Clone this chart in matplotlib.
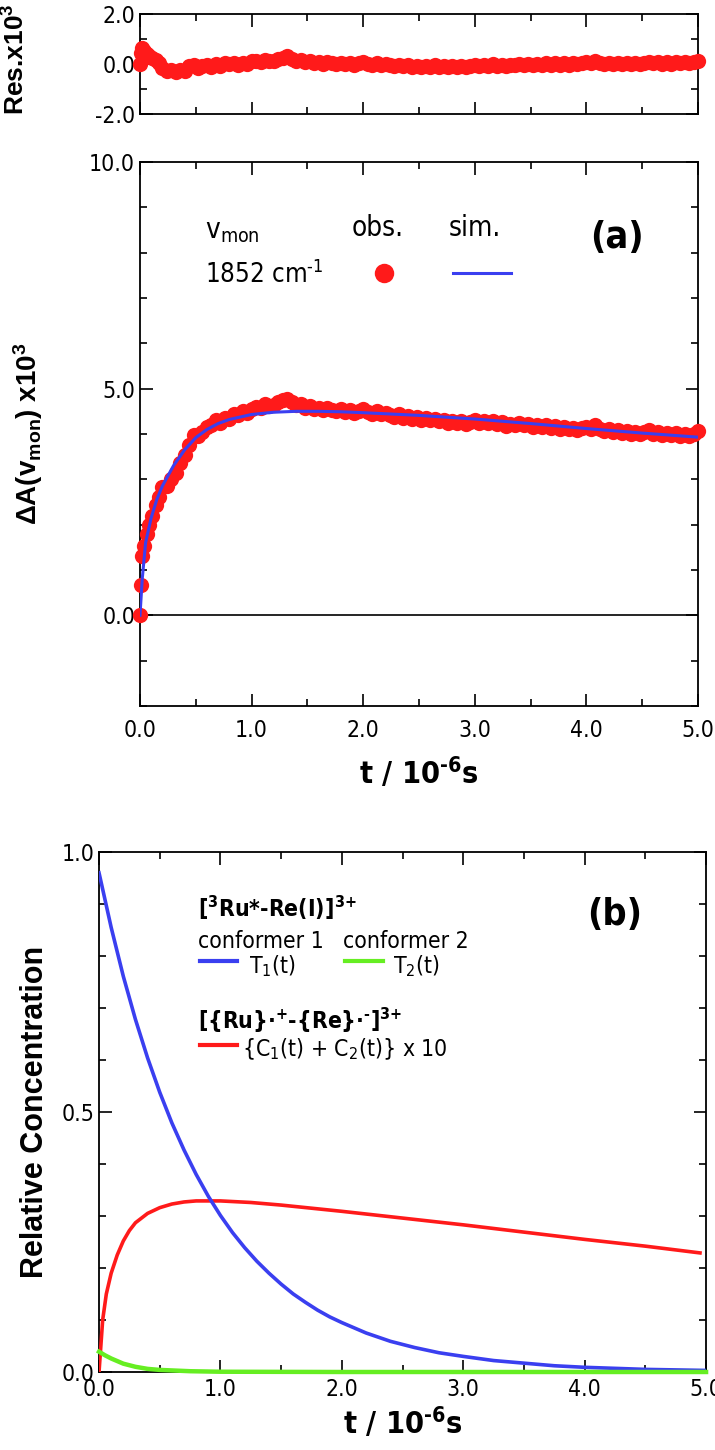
import numpy as np
import matplotlib
matplotlib.use("Agg")
import matplotlib.pyplot as plt
from matplotlib.ticker import MultipleLocator

plt.rcParams['font.family'] = ['Liberation Sans', 'DejaVu Sans']
plt.rcParams['mathtext.default'] = 'regular'

#------------------------- DATA: panel (a) -------------------------
# observed transient (early points read one by one, then 0.04 grid)
t_obs_early = [0.0, 0.012, 0.02, 0.04, 0.06, 0.08, 0.11, 0.14, 0.17, 0.2, 0.24, 0.28,
               0.32, 0.36, 0.4, 0.44, 0.48, 0.52, 0.56, 0.6, 0.64, 0.68, 0.72, 0.76, 0.8]
a_obs_early = [0.0, 0.67, 1.30, 1.54, 1.80, 2.0, 2.2, 2.43, 2.6, 2.83, 2.85, 3.0,
               3.15, 3.35, 3.53, 3.75, 3.98, 3.96, 4.05, 4.15, 4.2, 4.30, 4.25, 4.36, 4.33]
t_grid = np.round(np.arange(0.84, 5.001, 0.04), 2)
a_obs_late = [4.45, 4.42, 4.50, 4.47, 4.55, 4.60, 4.58, 4.66, 4.62, 4.64, 4.70, 4.74, 4.78,
              4.70, 4.64, 4.66, 4.58, 4.62, 4.55, 4.57, 4.52, 4.58, 4.54, 4.50, 4.55, 4.49,
              4.53, 4.47, 4.51, 4.55, 4.48, 4.45, 4.50, 4.44, 4.47, 4.42, 4.38, 4.43, 4.36,
              4.40, 4.33, 4.37, 4.31, 4.35, 4.30, 4.34, 4.28, 4.31, 4.25, 4.29, 4.24, 4.28,
              4.22, 4.27, 4.30, 4.25, 4.29, 4.24, 4.28, 4.22, 4.26, 4.18, 4.23, 4.20, 4.24,
              4.19, 4.22, 4.16, 4.20, 4.15, 4.19, 4.14, 4.18, 4.12, 4.16, 4.10, 4.14, 4.09,
              4.13, 4.16, 4.11, 4.20, 4.12, 4.06, 4.10, 4.04, 4.08, 4.02, 4.06, 4.01, 4.05,
              3.99, 4.04, 4.08, 4.01, 4.05, 3.98, 4.03, 3.97, 4.02, 3.96, 4.01, 3.95, 4.00, 4.06]

# residuals
res_early = [0.0, 0.45, 0.62, 0.5, 0.4, 0.3, 0.25, 0.15, 0.05, -0.15, -0.3, -0.25,
             -0.32, -0.25, -0.3, -0.1, -0.05, -0.15, -0.1, -0.05, -0.12, -0.02, -0.08, 0.05, 0.0]
res_late = [0.02, -0.05, 0.05, 0.0, 0.1, 0.12, 0.08, 0.15, 0.1, 0.12, 0.18, 0.25, 0.3,
            0.18, 0.12, 0.15, 0.06, 0.1, 0.03, 0.06, 0.0, 0.08, 0.03, -0.02, 0.05, -0.02,
            0.03, -0.03, 0.02, 0.06, 0.0, -0.04, 0.03, -0.04, 0.0, -0.05, -0.1, -0.03, -0.1,
            -0.05, -0.12, -0.07, -0.12, -0.07, -0.12, -0.06, -0.12, -0.08, -0.14, -0.1, -0.14,
            -0.08, -0.14, -0.08, -0.03, -0.08, -0.03, -0.07, -0.02, -0.08, -0.03, -0.1, -0.04,
            -0.06, 0.0, -0.04, 0.0, -0.05, 0.0, -0.04, 0.02, -0.03, 0.02, -0.03, 0.02, -0.03,
            0.02, -0.02, 0.03, 0.06, 0.02, 0.1, 0.03, -0.02, 0.03, -0.02, 0.03, -0.02, 0.03,
            0.0, 0.04, 0.0, 0.05, 0.08, 0.02, 0.06, 0.0, 0.06, 0.01, 0.06, 0.02, 0.07, 0.03,
            0.08, 0.12]

# simulated curve
t_sim = [0, 0.02, 0.05, 0.1, 0.15, 0.2, 0.3, 0.4, 0.5, 0.6, 0.7, 0.8, 1.0, 1.2, 1.4,
         1.6, 1.8, 2.0, 2.5, 3.0, 3.5, 4.0, 4.5, 5.0]
a_sim = [0, 0.8, 1.6, 2.15, 2.55, 2.85, 3.3, 3.65, 3.92, 4.1, 4.23, 4.32, 4.43, 4.48, 4.5,
         4.5, 4.49, 4.47, 4.41, 4.33, 4.23, 4.12, 4.02, 3.93]

#------------------------- DATA: panel (b) -------------------------
t_T1 = [0, 0.1, 0.2, 0.3, 0.4, 0.5, 0.6, 0.7, 0.8, 0.9, 1.0, 1.1, 1.2, 1.3, 1.4, 1.5,
        1.6, 1.7, 1.8, 1.9, 2.0, 2.1, 2.2, 2.3, 2.4, 2.5, 2.6, 2.8, 3.0, 3.25, 3.5, 3.75,
        4.0, 4.5, 5.0]
T1 = [0.960, 0.855, 0.761, 0.678, 0.604, 0.538, 0.479, 0.427, 0.380, 0.338, 0.301, 0.268,
      0.239, 0.213, 0.190, 0.169, 0.150, 0.134, 0.119, 0.106, 0.095, 0.085, 0.075, 0.067,
      0.059, 0.053, 0.047, 0.037, 0.030, 0.022, 0.017, 0.012, 0.009, 0.005, 0.003]
t_T2 = [0, 0.05, 0.1, 0.15, 0.2, 0.3, 0.4, 0.5, 0.75, 1.0, 2.0, 5.0]
T2 = [0.039, 0.032, 0.026, 0.021, 0.016, 0.010, 0.006, 0.004, 0.0015, 0.0005, 0.0, 0.0]
t_C = [0, 0.03, 0.06, 0.1, 0.15, 0.2, 0.25, 0.3, 0.4, 0.5, 0.6, 0.7, 0.8, 0.9, 1.0,
       1.25, 1.5, 2.0, 2.5, 3.0, 3.5, 4.0, 4.5, 4.95]
C10 = [0, 0.10, 0.15, 0.19, 0.225, 0.252, 0.272, 0.287, 0.305, 0.316, 0.323, 0.327, 0.329,
       0.329, 0.329, 0.326, 0.321, 0.309, 0.296, 0.283, 0.269, 0.255, 0.242, 0.229]

t_obs = np.concatenate([t_obs_early, t_grid])
a_obs = np.concatenate([a_obs_early, a_obs_late])
res = np.concatenate([res_early, res_late])

RED = '#ff1a1a'
BLUE = '#3a3ff0'
GREEN = '#66ee22'
NARROW = dict(family=['DejaVu Sans'], stretch='condensed')
LAB = dict(fontsize=20, fontweight='bold')
XLAB = dict(fontsize=22, fontweight='bold', **NARROW)


def style(ax, xmaj, xmin, ymaj, ymin):
    ax.xaxis.set_major_locator(MultipleLocator(xmaj))
    ax.xaxis.set_minor_locator(MultipleLocator(xmin))
    ax.yaxis.set_major_locator(MultipleLocator(ymaj))
    ax.yaxis.set_minor_locator(MultipleLocator(ymin))
    ax.tick_params(which='both', direction='in', top=True, right=True, labelsize=16.5, width=1.2)
    ax.tick_params(which='major', length=9)
    ax.tick_params(which='minor', length=5)
    for s in ax.spines.values():
        s.set_linewidth(1.3)


def narrow_ticks(ax):
    for lab in ax.get_xticklabels() + ax.get_yticklabels():
        lab.set_family('DejaVu Sans')
        lab.set_stretch('condensed')


fig = plt.figure(figsize=(7.15, 14.5), dpi=100)

# residual panel
axr = fig.add_axes([0.1958, 0.9214, 0.7804, 0.0690])
axr.plot(t_obs, res, 'o', color=RED, ms=11, mec='none', clip_on=False, zorder=3)
axr.set_xlim(0, 5)
axr.set_ylim(-2, 2)
style(axr, 1.0, 0.5, 2.0, 1.0)
axr.set_yticks([-2, 0, 2])
axr.set_yticklabels(['-2.0', '0.0', '2.0'])
axr.set_xticklabels([])
narrow_ticks(axr)
axr.set_ylabel('Res.x10$^{3}$', fontsize=19, fontweight='bold')
axr.yaxis.set_label_coords(-0.197, 0.55)

# panel (a)
axa = fig.add_axes([0.1958, 0.5131, 0.7804, 0.3752])
axa.axhline(0, color='k', lw=1.2)
axa.plot(t_obs, a_obs, 'o', color=RED, ms=11, mec='none', clip_on=False, zorder=3)
axa.plot(t_sim, a_sim, '-', color=BLUE, lw=2.2, zorder=4)
axa.set_xlim(0, 5)
axa.set_ylim(-2, 10)
style(axa, 1.0, 0.5, 5.0, 1.0)
axa.set_xticks([0, 1, 2, 3, 4, 5])
axa.set_xticklabels(['0.0', '1.0', '2.0', '3.0', '4.0', '5.0'])
axa.set_yticks([0, 5, 10])
axa.set_yticklabels(['0.0', '5.0', '10.0'])
axa.tick_params(axis='x', pad=9)
narrow_ticks(axa)
axa.set_ylabel('$\\Delta$A(v$_{mon}$) x10$^{3}$', **LAB)
axa.yaxis.set_label_coords(-0.17, 0.5)
axa.set_xlabel('t / 10$^{\u20106}$s', labelpad=10, **XLAB)

ta = axa.transAxes
axa.text(0.117, 0.86, 'v$_{mon}$', transform=ta, fontsize=20, va='baseline', **NARROW)
axa.text(0.426, 0.864, 'obs.', transform=ta, fontsize=20, va='baseline', ha='center', **NARROW)
axa.text(0.60, 0.864, 'sim.', transform=ta, fontsize=20, va='baseline', ha='center', **NARROW)
axa.text(0.855, 0.842, '(a)', transform=ta, fontsize=27, fontweight='bold', va='baseline',
         ha='center', **NARROW)
axa.text(0.117, 0.778, '1852 cm$^{\u20101}$', transform=ta, fontsize=18.5, va='baseline', **NARROW)
axa.plot([0.437], [0.796], 'o', color=RED, ms=14, mec='none', transform=ta)
axa.plot([0.561, 0.665], [0.796, 0.796], '-', color=BLUE, lw=2.2, transform=ta)

# panel (b)
axb = fig.add_axes([0.1385, 0.0538, 0.8490, 0.3586])
axb.plot(t_C, C10, '-', color=RED, lw=2.6, zorder=3)
axb.plot(t_T1, T1, '-', color=BLUE, lw=2.6, zorder=3)
axb.plot(t_T2, T2, '-', color=GREEN, lw=3.2, zorder=4, clip_on=False)
axb.set_xlim(0, 5)
axb.set_ylim(0, 1)
style(axb, 1.0, 0.5, 0.5, 0.1)
axb.set_xticks([0, 1, 2, 3, 4, 5])
axb.set_xticklabels(['0.0', '1.0', '2.0', '3.0', '4.0', '5.0'])
axb.set_yticks([0, 0.5, 1.0])
axb.set_yticklabels(['0.0', '0.5', '1.0'])
axb.tick_params(axis='x', pad=4)
narrow_ticks(axb)
axb.set_ylabel('Relative Concentration', fontsize=22, fontweight='bold')
axb.yaxis.set_label_coords(-0.081, 0.5)
axb.set_xlabel('t / 10$^{\u20106}$s', labelpad=3, **XLAB)

tb = axb.transAxes
FS = 16.5
axb.text(0.163, 0.875, '[$^{3}$Ru*-Re(I)]$^{3{+}}$', transform=tb, fontsize=FS,
         fontweight='bold', va='baseline', **NARROW)
axb.text(0.163, 0.815, 'conformer 1', transform=tb, fontsize=FS, va='baseline', **NARROW)
axb.text(0.402, 0.815, 'conformer 2', transform=tb, fontsize=FS, va='baseline', **NARROW)
axb.plot([0.167, 0.228], [0.79, 0.79], '-', color=BLUE, lw=3, transform=tb)
axb.text(0.247, 0.768, 'T$_{1}$(t)', transform=tb, fontsize=FS, va='baseline', **NARROW)
axb.plot([0.406, 0.468], [0.79, 0.79], '-', color=GREEN, lw=3, transform=tb)
axb.text(0.485, 0.768, 'T$_{2}$(t)', transform=tb, fontsize=FS, va='baseline', **NARROW)
axb.text(0.163, 0.66, '[{Ru}\u00b7$^{+}$-{Re}\u00b7$^{\u2010}$]$^{3{+}}$', transform=tb,
         fontsize=FS, fontweight='bold', va='baseline', **NARROW)
axb.plot([0.167, 0.228], [0.628, 0.628], '-', color=RED, lw=3, transform=tb)
axb.text(0.236, 0.608, '{C$_{1}$(t) + C$_{2}$(t)} x 10', transform=tb, fontsize=FS,
         va='baseline', **NARROW)
axb.text(0.85, 0.86, '(b)', transform=tb, fontsize=27, fontweight='bold', va='baseline',
         ha='center', **NARROW)

fig.savefig('out.png', dpi=100)
